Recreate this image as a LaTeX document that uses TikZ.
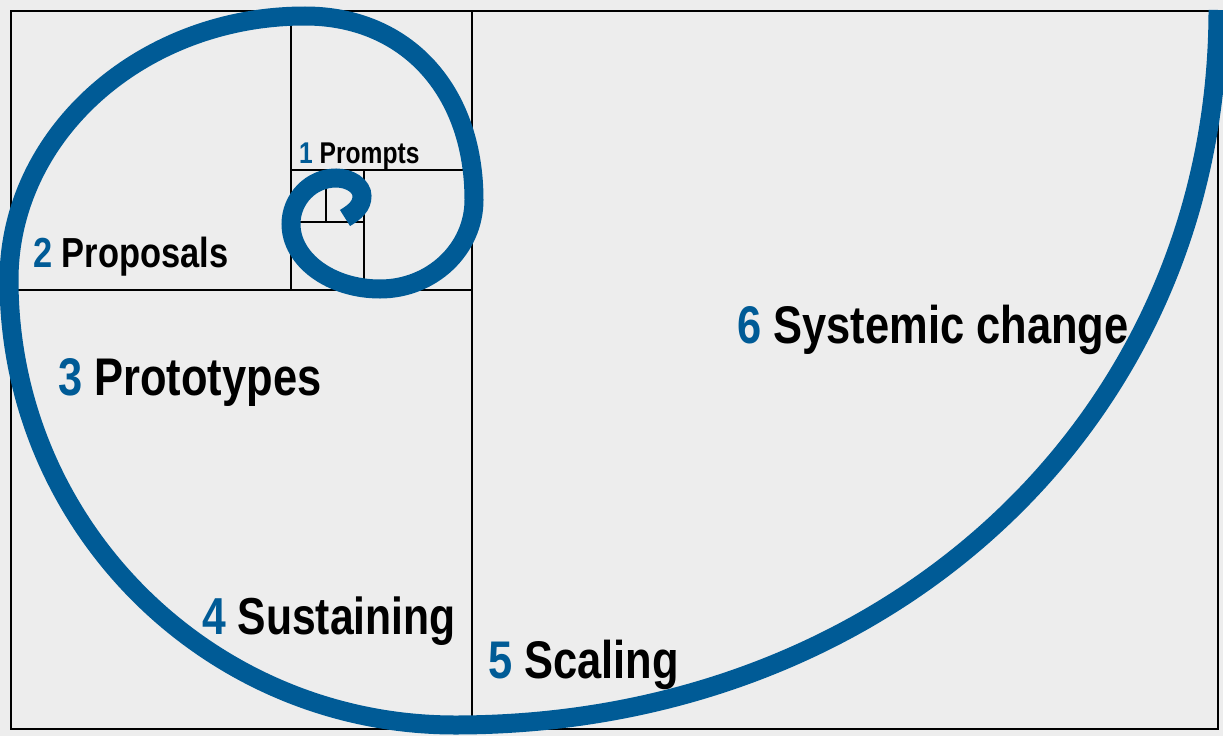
\documentclass[tikz,border=0pt]{standalone}
\usepackage{fontspec}
\newfontfamily\condfont[FakeStretch=0.82]{Liberation Sans}
\definecolor{spiralblue}{RGB}{0,91,150}
\definecolor{paper}{RGB}{237,237,237}
\newcommand\stage[2]{\textcolor{spiralblue}{#1} #2}
\begin{document}
\begin{tikzpicture}[x=1pt,y=-1pt,
    lbl/.style={anchor=base west,inner sep=0pt,font=\condfont\bfseries},
    grid/.style={line width=1.9}]
\fill[paper](0,0)rectangle(1223,736);
\useasboundingbox(0,0)rectangle(1223,736);
% the rectangles
\draw[line width=2.6](11,11)rectangle(1218,729);
\draw[grid](472,11)--(472,729);
\draw[grid](11,290)--(472,290);
\draw[grid](291,11)--(291,290);
\draw[grid](291,170)--(472,170);
\draw[grid](364,170)--(364,290);
\draw[grid](291,222)--(364,222);
\draw[grid](326,170)--(326,222);
% the spiral, one quarter at a time
\draw[spiralblue,line width=19]
  (345,218) .. controls (355,212) and (362,206) .. (362,196)
  .. controls (362,186) and (350,178) .. (336,178)
  .. controls (311,178) and (291,199) .. (291,224)
  .. controls (291,260) and (331,289) .. (380,289)
  .. controls (432,289) and (474,249) .. (474,200)
  .. controls (474,90) and (406,16) .. (305,16)
  .. controls (142,16) and (9,134) .. (9,280)
  .. controls (9,526) and (209,725) .. (455,725)
  .. controls (890,725) and (1218,418) .. (1218,10);
% the stages
\node[lbl,font=\condfont\bfseries\fontsize{30}{30}\selectfont] (prompts) at (299,163) {\stage{1}{Prompts}};
\node[lbl,font=\condfont\bfseries\fontsize{42}{42}\selectfont] (proposals) at (33,267) {\stage{2}{Proposals}};
\node[lbl,font=\condfont\bfseries\fontsize{53}{53}\selectfont] (prototypes) at (58,395) {\stage{3}{Prototypes}};
\node[lbl,font=\condfont\bfseries\fontsize{52}{52}\selectfont] (sustaining) at (202,634) {\stage{4}{Sustaining}};
\node[lbl,font=\condfont\bfseries\fontsize{53}{53}\selectfont] (scaling) at (488,678) {\stage{5}{Scaling}};
\node[lbl,font=\condfont\bfseries\fontsize{53}{53}\selectfont] (systemic) at (737,343) {\stage{6}{Systemic change}};
\end{tikzpicture}
\end{document}
